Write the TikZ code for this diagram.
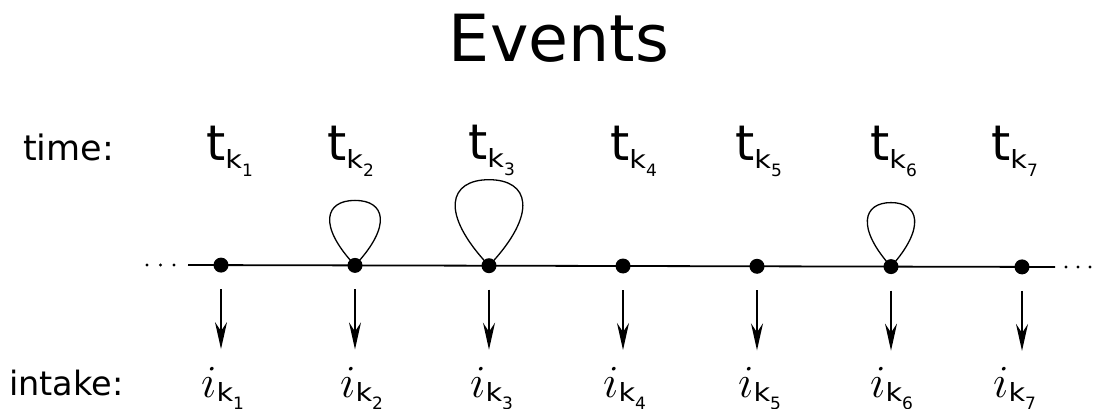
\RequirePackage{fix-cm}
\documentclass[tikz,border=0pt]{standalone}
\usepackage{fontspec}
\setmainfont{DejaVu Sans}
\usetikzlibrary{arrows.meta,calc}
\newcommand\subk[1]{\scalebox{1.15}[1]{\fontsize{25}{25}\selectfont k}\raisebox{-8pt}{\fontsize{17}{17}\selectfont #1}}
\newcommand\tlab[1]{{\fontsize{49}{49}\selectfont t}\raisebox{-8pt}{\subk{#1}}}
\newcommand\ilab[1]{{\fontsize{46}{46}\selectfont$i$}\raisebox{-4pt}{\subk{#1}}}
\tikzset{
  evdot/.style={circle,fill=black,inner sep=0pt,minimum size=15pt},
  tinydot/.style={circle,fill=black,inner sep=0pt,minimum size=3.2pt},
  lbl/.style={inner sep=0pt,anchor=base west},
  axisline/.style={line width=1.8pt},
  loopline/.style={line width=1.3pt},
  intakearrow/.style={line width=1.5pt,-{Stealth[length=27pt,width=12pt,inset=9pt]}},
}
\begin{document}
\begin{tikzpicture}[x=1pt,y=-1pt]
\useasboundingbox (0,0) rectangle (1093,409);
\clip (0,0) rectangle (1093,409);
% title and row labels
\node[inner sep=0pt,anchor=base] (title) at (559,62) {\fontsize{65}{65}\selectfont Events};
\node[lbl] (timelbl) at (23,161) {\fontsize{35}{35}\selectfont time:};
\node[lbl] (intakelbl) at (9,395) {\fontsize{33.5}{33.5}\selectfont intake:};
% axis ends
\coordinate (L) at (188,265);
\coordinate (R) at (1055,267);
% event dots
\node[evdot] (d1) at (221,265.1) {};
\node[evdot] (d2) at (355,265.4) {};
\node[evdot] (d3) at (489,265.7) {};
\node[evdot] (d4) at (623,266.0) {};
\node[evdot] (d5) at (757,266.3) {};
\node[evdot] (d6) at (891,266.6) {};
\node[evdot] (d7) at (1022,266.9) {};
\draw[axisline] (L) -- (d1.center) -- (d2.center) -- (d3.center) -- (d4.center) -- (d5.center) -- (d6.center) -- (d7.center) -- (R);
% ellipsis dots
\node[tinydot] (ld1) at (147,265) {};
\node[tinydot] (ld2) at (160.5,265) {};
\node[tinydot] (ld3) at (174,265) {};
\node[tinydot] (rd1) at (1066,267) {};
\node[tinydot] (rd2) at (1078,267) {};
\node[tinydot] (rd3) at (1090,267) {};
% loops
\coordinate (l2) at ($(d2.center)+(0,-65)$);
\coordinate (l3) at ($(d3.center)+(0,-86)$);
\coordinate (l6) at ($(d6.center)+(0,-64)$);
\draw[loopline] (d2.center) .. controls +(-37.5,-40) and +(-30,0) .. (l2) .. controls +(30,0) and +(37.5,-40) .. (d2.center);
\draw[loopline] (d3.center) .. controls +(-50,-53) and +(-40,0) .. (l3) .. controls +(40,0) and +(50,-53) .. (d3.center);
\draw[loopline] (d6.center) .. controls +(-35,-39) and +(-28,0) .. (l6) .. controls +(28,0) and +(35,-39) .. (d6.center);
% time labels
\node[lbl] (t1) at (206,161) {\tlab{1}};
\node[lbl] (t2) at (327,161) {\tlab{2}};
\node[lbl] (t3) at (468,160) {\tlab{3}};
\node[lbl] (t4) at (610,161) {\tlab{4}};
\node[lbl] (t5) at (735,161) {\tlab{5}};
\node[lbl] (t6) at (870,161) {\tlab{6}};
\node[lbl] (t7) at (991,161) {\tlab{7}};
% intake labels
\node[lbl] (i1) at (201,397) {\ilab{1}};
\node[lbl] (i2) at (340,397) {\ilab{2}};
\node[lbl] (i3) at (470,397) {\ilab{3}};
\node[lbl] (i4) at (603,397) {\ilab{4}};
\node[lbl] (i5) at (738,397) {\ilab{5}};
\node[lbl] (i6) at (870,397) {\ilab{6}};
\node[lbl] (i7) at (993,397) {\ilab{7}};
% arrows
\foreach \k in {1,...,7}{
  \coordinate (a\k s) at ($(d\k.center)+(0,24)$);
  \coordinate (a\k e) at ($(d\k.center)+(0,84)$);
  \draw[intakearrow] (a\k s) -- (a\k e);
}
\end{tikzpicture}
\end{document}
